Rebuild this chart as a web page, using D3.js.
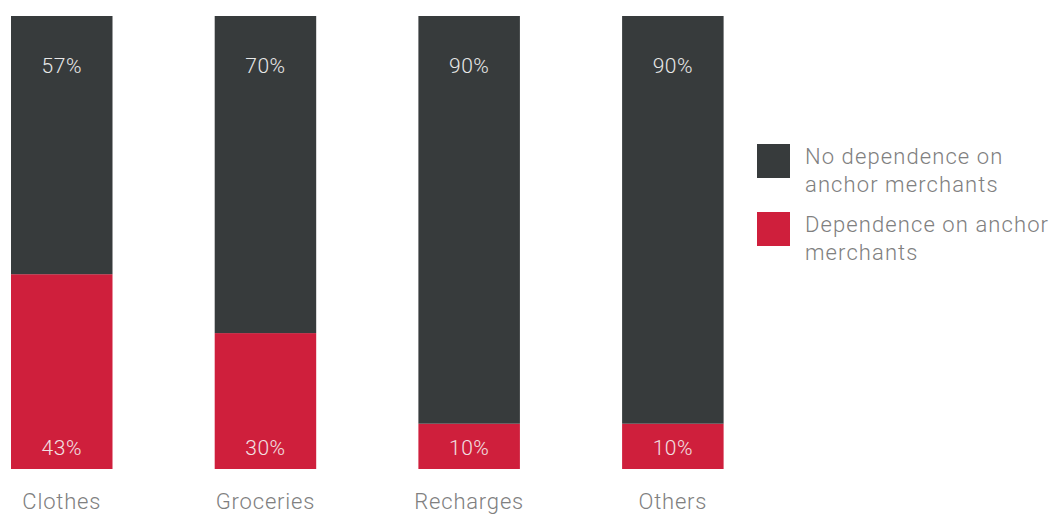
<!DOCTYPE html>
<html>
<head>
<meta charset="utf-8">
<script src="https://cdn.jsdelivr.net/npm/d3@7"></script>
<style>
  html, body { margin: 0; padding: 0; background: #fff; }
  svg { display: block; font-family: Roboto, "DejaVu Sans", sans-serif; font-weight: 300; }
</style>
</head>
<body>
<svg id="chart" width="1050" height="514"></svg>
<script>
// Share of merchants by category (percent)
const categories = ["Clothes", "Groceries", "Recharges", "Others"];
const noDependence = [57, 70, 90, 90];
const dependence = [43, 30, 10, 10];
const seriesNames = ["No dependence on anchor merchants", "Dependence on anchor merchants"];
const legendLines = [["No dependence on", "anchor merchants"], ["Dependence on anchor", "merchants"]];

const colors = { no: "#373b3c", dep: "#cf1f3c" };

const svg = d3.select("#chart");
const plot = { left: 11, top: 16, bottom: 469 };
const step = 203.7, barW = 101.5;

const x = d3.scaleBand()
  .domain(categories)
  .range([plot.left, plot.left + step * (categories.length - 1) + barW])
  .paddingInner(1 - barW / step)
  .paddingOuter(0);

const y = d3.scaleLinear().domain([0, 100]).range([plot.bottom, plot.top]);

const rows = categories.map((c, i) => ({ cat: c, dep: dependence[i], no: noDependence[i] }));
const stack = d3.stack().keys(["dep", "no"])(rows);

const g = svg.append("g");
g.selectAll("g.layer")
  .data(stack)
  .join("g")
  .attr("class", "layer")
  .attr("fill", d => d.key === "dep" ? colors.dep : colors.no)
  .selectAll("rect")
  .data(d => d)
  .join("rect")
  .attr("x", d => x(d.data.cat))
  .attr("width", x.bandwidth())
  .attr("y", d => y(d[1]))
  .attr("height", d => y(d[0]) - y(d[1]));

// value labels: top of dark segment, bottom of red segment
g.selectAll("text.top")
  .data(rows)
  .join("text")
  .attr("class", "top")
  .attr("x", d => x(d.cat) + x.bandwidth() / 2)
  .attr("y", y(100) + 57)
  .attr("text-anchor", "middle")
  .attr("fill", "#e8e8e8")
  .attr("font-size", 21)
  .attr("letter-spacing", 0.5)
  .text(d => d.no + "%");

g.selectAll("text.bottom")
  .data(rows)
  .join("text")
  .attr("class", "bottom")
  .attr("x", d => x(d.cat) + x.bandwidth() / 2)
  .attr("y", y(0) - 14)
  .attr("text-anchor", "middle")
  .attr("fill", "#f2e0e3")
  .attr("font-size", 21)
  .attr("letter-spacing", 0.5)
  .text(d => d.dep + "%");

// category axis
const axis = d3.axisBottom(x).tickSize(0).tickPadding(0);
const ax = svg.append("g")
  .attr("transform", `translate(0,${plot.bottom})`)
  .call(axis);
ax.select(".domain").remove();
ax.selectAll("text")
  .attr("dy", null)
  .attr("y", 40)
  .attr("fill", "#808080")
  .attr("font-size", 22)
  .attr("letter-spacing", 0.8)
  .attr("font-family", "Roboto, 'DejaVu Sans', sans-serif")
  .attr("font-weight", 300);

// legend
const legend = svg.append("g").attr("transform", "translate(757,144)");
const items = legend.selectAll("g")
  .data(seriesNames)
  .join("g")
  .attr("transform", (d, i) => `translate(0,${i * 68})`);
items.append("rect")
  .attr("width", 33)
  .attr("height", 34)
  .attr("fill", (d, i) => i === 0 ? colors.no : colors.dep);
items.append("text")
  .attr("x", 48)
  .attr("fill", "#808080")
  .attr("font-size", 22)
  .attr("letter-spacing", 1.1)
  .selectAll("tspan")
  .data((d, i) => legendLines[i])
  .join("tspan")
  .attr("x", 48)
  .attr("y", (d, j) => 20 + j * 28)
  .text(d => d);
</script>
</body>
</html>
